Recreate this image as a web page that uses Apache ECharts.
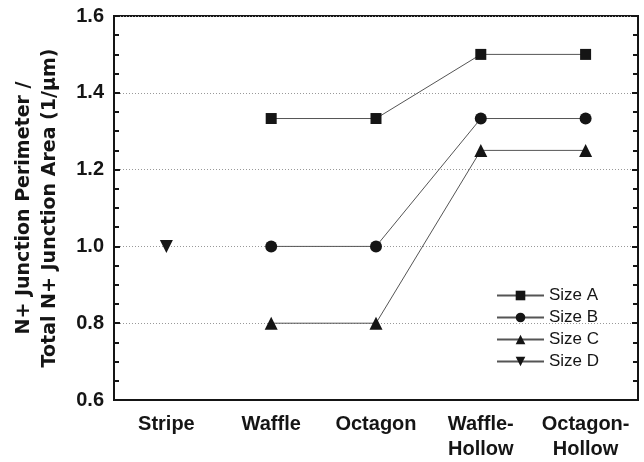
<!DOCTYPE html>
<html>
<head>
<meta charset="utf-8">
<script src="https://cdn.jsdelivr.net/npm/echarts@6/dist/echarts.min.js"></script>
<style>html,body{margin:0;padding:0;background:#fff}#c{width:644px;height:462px}</style>
</head>
<body>
<div id="c"></div>
<script>
const categories = ['Stripe', 'Waffle', 'Octagon', 'Waffle-\nHollow', 'Octagon-\nHollow'];
const sizeA = [null, 1.333, 1.333, 1.5, 1.5];
const sizeB = [null, 1.0, 1.0, 1.333, 1.333];
const sizeC = [null, 0.8, 0.8, 1.25, 1.25];
const sizeD = [1.0, null, null, null, null];
const yTitle = 'N+ Junction Perimeter /\nTotal N+ Junction Area (1/\u03bcm)';

const chart = echarts.init(document.getElementById('c'));
const font = 'Liberation Sans, Arial, sans-serif';
const wide = 'DejaVu Sans, sans-serif';
function mk(name, data, symbol, size, rot) {
  return {
    name: name, type: 'line', data: data, symbol: symbol, symbolSize: size,
    symbolRotate: rot || 0, connectNulls: false,
    itemStyle: { color: '#151515' },
    lineStyle: { color: '#555', width: 1 },
    emphasis: { disabled: true }, animation: false
  };
}
const yCommon = {
  type: 'value', min: 0.6, max: 1.6, interval: 0.2,
  axisLine: { show: true, lineStyle: { color: '#151515', width: 2 } },
  axisTick: { show: true, inside: true, length: 6, lineStyle: { color: '#151515', width: 2 } },
  minorTick: { show: true, splitNumber: 4, length: 5, lineStyle: { color: '#151515', width: 2 } }
};
chart.setOption({
  backgroundColor: '#fff',
  animation: false,
  grid: { left: 114, right: 6, top: 16, bottom: 60, show: true, borderColor: '#151515', borderWidth: 2 },
  legend: {
    orient: 'vertical', left: 491, top: 282, itemWidth: 47, itemHeight: 12, itemGap: 5,
    textStyle: { fontFamily: font, fontSize: 17, color: '#151515', lineHeight: 16 },
    data: ['Size A', 'Size B', 'Size C', 'Size D']
  },
  xAxis: {
    type: 'category', data: categories, boundaryGap: true,
    axisLine: { lineStyle: { color: '#151515', width: 2 } },
    axisTick: { inside: true, alignWithLabel: true, length: 6, lineStyle: { color: '#151515', width: 2 } },
    axisLabel: { fontFamily: font, fontWeight: 'bold', fontSize: 20, color: '#151515', margin: 12, lineHeight: 25, interval: 0 }
  },
  yAxis: [
    Object.assign({}, yCommon, {
      position: 'left',
      name: yTitle, nameLocation: 'middle', nameGap: 51,
      nameTextStyle: { fontFamily: wide, fontWeight: 'bold', fontSize: 19, color: '#151515', lineHeight: 26 },
      axisLabel: { fontFamily: font, fontWeight: 'bold', fontSize: 20, color: '#151515', margin: 10,
        formatter: v => v.toFixed(1) },
      splitLine: { show: true, lineStyle: { color: '#999', type: [1, 2], width: 1 } }
    }),
    Object.assign({}, yCommon, {
      position: 'right', axisLabel: { show: false }, splitLine: { show: false }
    })
  ],
  series: [
    mk('Size A', sizeA, 'rect', 11),
    mk('Size B', sizeB, 'circle', 12),
    mk('Size C', sizeC, 'triangle', 13),
    mk('Size D', sizeD, 'triangle', 13, 180)
  ]
});
</script>
</body>
</html>
